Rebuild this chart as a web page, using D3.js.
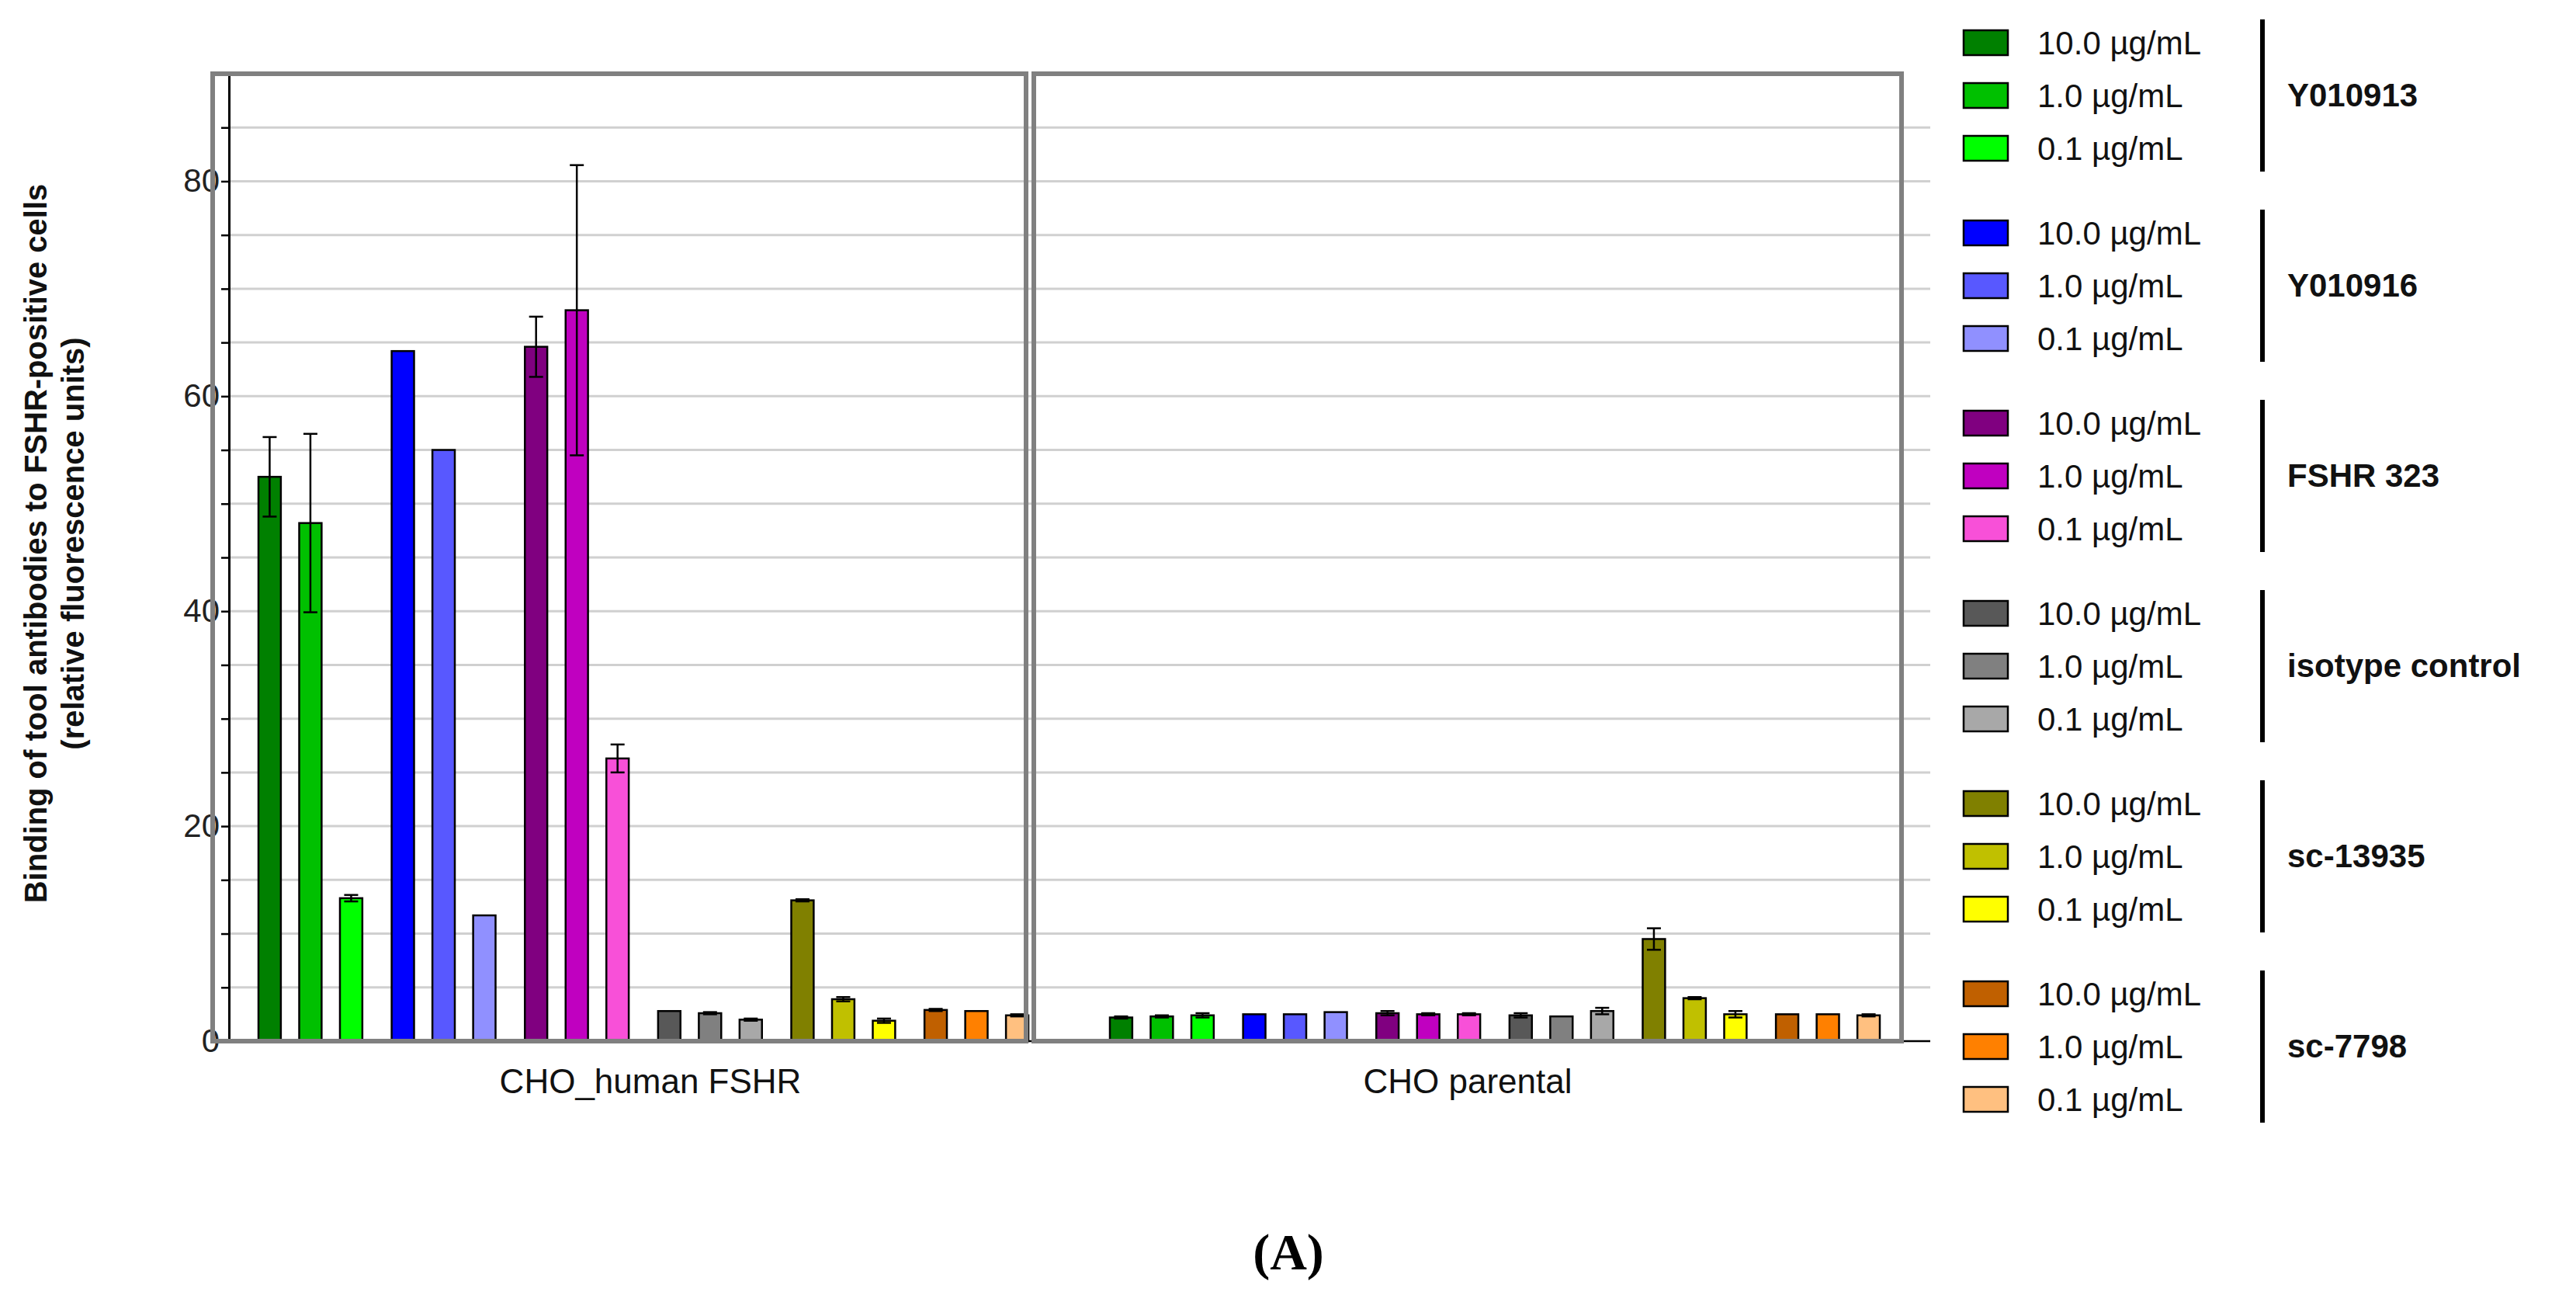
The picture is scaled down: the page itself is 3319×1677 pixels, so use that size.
<!DOCTYPE html><html><head><meta charset="utf-8">
<script src="https://cdn.jsdelivr.net/npm/d3@7/dist/d3.min.js"></script>
<style>body{margin:0;background:#fff}</style></head><body>
<svg id="c" width="3319" height="1677"></svg>
<script>
const panels = ["CHO_human FSHR", "CHO parental"];
const antibodies = ["Y010913", "Y010916", "FSHR 323", "isotype control", "sc-13935", "sc-7798"];
const doses = ["10.0 µg/mL", "1.0 µg/mL", "0.1 µg/mL"];
const colors = [
  ["#008000", "#00c000", "#00ff00"],
  ["#0000ff", "#5858ff", "#9090ff"],
  ["#800080", "#c000c0", "#f850d8"],
  ["#585858", "#808080", "#a8a8a8"],
  ["#808000", "#c0c000", "#ffff00"],
  ["#c06000", "#ff8000", "#ffc080"]
];
// values[panel][antibody][dose]
const valuesFSHR = [[52.5,48.2,13.3],[64.2,55.0,11.7],[64.6,68.0,26.3],[2.8,2.6,2.0],[13.1,3.9,1.9],[2.9,2.8,2.4]];
const errorsFSHR = [[3.7,8.3,0.3],[0,0,0],[2.8,13.5,1.3],[0,0.1,0.1],[0.1,0.2,0.2],[0.1,0,0.1]];
const valuesParental = [[2.2,2.3,2.4],[2.5,2.5,2.7],[2.6,2.5,2.5],[2.4,2.3,2.8],[9.5,4.0,2.5],[2.5,2.5,2.4]];
const errorsParental = [[0.1,0.1,0.2],[0,0,0],[0.2,0.1,0.1],[0.2,0,0.3],[1.0,0.1,0.3],[0,0,0.1]];
const yTicks = [0,20,40,60,80];

const svg = d3.select("#c");
const font = "Liberation Sans, Arial, sans-serif";
const y = d3.scaleLinear().domain([0,90]).range([1341,95]);
const boxes = [[274,1322],[1332,2450]];
const groupRanges = [[333,1325],[1430,2422]];

// gridlines
svg.selectAll(".grid").data(d3.range(5,90,5)).join("line")
  .attr("x1",295).attr("x2",2487).attr("y1",d=>y(d)).attr("y2",d=>y(d))
  .attr("stroke","#d0d0d0").attr("stroke-width",3);
svg.append("line").attr("x1",274).attr("x2",2487).attr("y1",y(0)).attr("y2",y(0)).attr("stroke","#000").attr("stroke-width",2.5);

// y axis
const yAxis = d3.axisLeft(y).tickValues(d3.range(0,90,5)).tickSize(10).tickFormat(d=>yTicks.includes(d)?d:"");
const ga = svg.append("g").attr("transform","translate(295,0)").call(yAxis);
ga.select(".domain").attr("stroke","#000").attr("stroke-width",3);
ga.selectAll(".tick line").attr("stroke","#000").attr("stroke-width",2.5);
ga.selectAll(".tick text").attr("font-family",font).attr("font-size",42).attr("fill","#222").attr("x",-12);

const allVals = [valuesFSHR, valuesParental];
const allErr = [errorsFSHR, errorsParental];
panels.forEach((p,pi)=>{
  const xg = d3.scaleBand().domain(antibodies).range(groupRanges[pi]).paddingInner(0.22).paddingOuter(0);
  const xb = d3.scaleBand().domain(doses).range([0,xg.bandwidth()]).paddingInner(0.45);
  const g = svg.append("g");
  antibodies.forEach((a,ai)=>{
    doses.forEach((d,di)=>{
      const v = allVals[pi][ai][di], e = allErr[pi][ai][di];
      const x0 = xg(a)+xb(d), w = xb.bandwidth();
      g.append("rect").attr("x",x0).attr("y",y(v)).attr("width",w).attr("height",y(0)-y(v))
        .attr("fill",colors[ai][di]).attr("stroke","#000").attr("stroke-width",2.5);
      if(e>0){
        const cx = x0+w/2;
        g.append("line").attr("x1",cx).attr("x2",cx).attr("y1",y(v+e)).attr("y2",y(v-e)).attr("stroke","#000").attr("stroke-width",2.5);
        [v+e,v-e].forEach(t=>g.append("line").attr("x1",cx-9).attr("x2",cx+9).attr("y1",y(t)).attr("y2",y(t)).attr("stroke","#000").attr("stroke-width",2.5));
      }
    });
  });
  svg.append("rect").attr("x",boxes[pi][0]).attr("y",95).attr("width",boxes[pi][1]-boxes[pi][0]).attr("height",y(0)-95)
    .attr("fill","none").attr("stroke","#808080").attr("stroke-width",6);
  svg.append("text").attr("x",(boxes[pi][0]+boxes[pi][1])/2+(pi==0?40:0)).attr("y",1408).attr("text-anchor","middle")
    .attr("font-family",font).attr("font-size",44).attr("fill","#111").text(p);
});

// y title
const yt = svg.append("text").attr("transform","translate(60,700) rotate(-90)").attr("text-anchor","middle")
  .attr("font-family",font).attr("font-size",40).attr("font-weight","bold").attr("fill","#111");
yt.append("tspan").attr("x",0).attr("dy",0).text("Binding of tool antibodies to FSHR-positive cells");
yt.append("tspan").attr("x",0).attr("dy",48).text("(relative fluorescence units)");

// legend
antibodies.forEach((a,ai)=>{
  const base = 55 + ai*245;
  doses.forEach((d,di)=>{
    const cy = base + di*68;
    svg.append("rect").attr("x",2530).attr("y",cy-16).attr("width",57).attr("height",32)
      .attr("fill",colors[ai][di]).attr("stroke","#000").attr("stroke-width",2.5);
    svg.append("text").attr("x",2625).attr("y",cy+15).attr("font-family",font).attr("font-size",42).attr("fill","#111").text(d);
  });
  svg.append("line").attr("x1",2915).attr("x2",2915).attr("y1",base-30).attr("y2",base+166).attr("stroke","#000").attr("stroke-width",6);
  svg.append("text").attr("x",2947).attr("y",base+82).attr("font-family",font).attr("font-size",42).attr("font-weight","bold").attr("fill","#111").text(a);
});

svg.append("text").attr("x",1660).attr("y",1635).attr("text-anchor","middle").attr("font-family","Liberation Serif, serif")
  .attr("font-size",66).attr("font-weight","bold").text("(A)");
</script></body></html>
